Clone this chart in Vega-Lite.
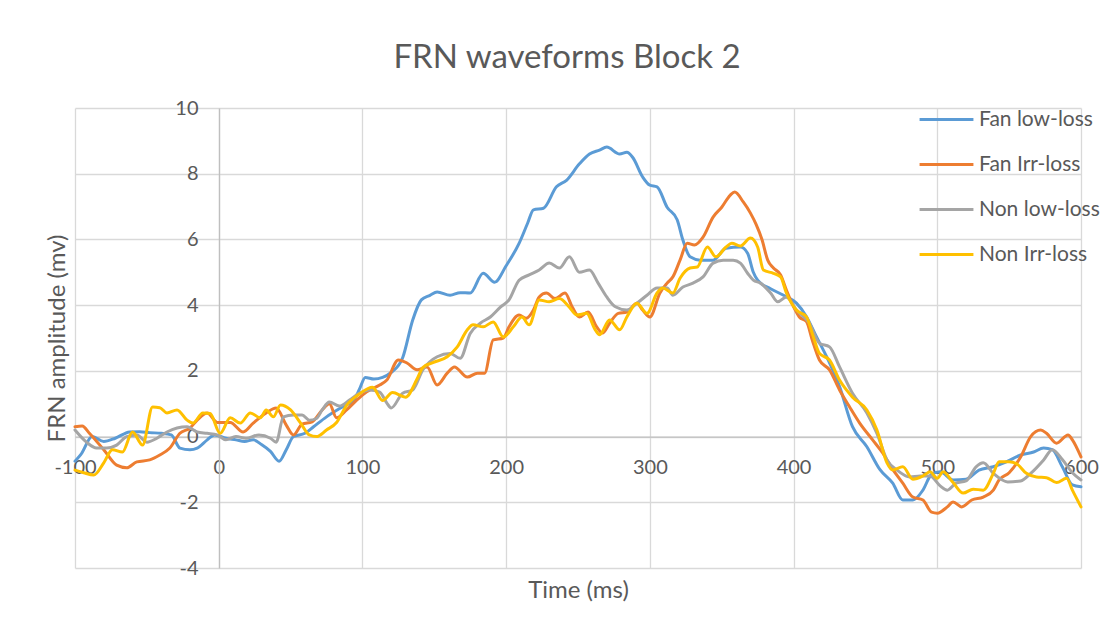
{
  "$schema": "https://vega.github.io/schema/vega-lite/v6.json",
  "width": 1006,
  "height": 460,
  "autosize": {"type": "none"},
  "padding": {"left": 75, "top": 108, "right": 39, "bottom": 63},
  "background": "white",
  "config": {
    "view": {"stroke": null},
    "font": "Lato",
    "axis": {"labelFont": "Lato", "titleFont": "Lato", "labelColor": "#595959", "titleColor": "#595959"},
    "legend": {"labelFont": "Lato"}
  },
  "title": {
    "text": "FRN waveforms Block 2",
    "font": "Lato",
    "fontSize": 33,
    "fontWeight": "normal",
    "color": "#595959",
    "anchor": "middle",
    "dx": -11,
    "offset": 16
  },
  "data": {
    "values": [
      {"t": -100, "v": -0.75, "s": "Fan low-loss"},
      {"t": -96, "v": -0.55, "s": "Fan low-loss"},
      {"t": -88, "v": 0.0, "s": "Fan low-loss"},
      {"t": -80, "v": -0.15, "s": "Fan low-loss"},
      {"t": -72, "v": -0.05, "s": "Fan low-loss"},
      {"t": -62, "v": 0.14, "s": "Fan low-loss"},
      {"t": -55, "v": 0.15, "s": "Fan low-loss"},
      {"t": -48, "v": 0.12, "s": "Fan low-loss"},
      {"t": -40, "v": 0.1, "s": "Fan low-loss"},
      {"t": -33, "v": 0.05, "s": "Fan low-loss"},
      {"t": -27, "v": -0.35, "s": "Fan low-loss"},
      {"t": -20, "v": -0.4, "s": "Fan low-loss"},
      {"t": -15, "v": -0.35, "s": "Fan low-loss"},
      {"t": -8, "v": -0.1, "s": "Fan low-loss"},
      {"t": -3, "v": 0.05, "s": "Fan low-loss"},
      {"t": 5, "v": -0.05, "s": "Fan low-loss"},
      {"t": 12, "v": -0.1, "s": "Fan low-loss"},
      {"t": 18, "v": -0.15, "s": "Fan low-loss"},
      {"t": 24, "v": -0.1, "s": "Fan low-loss"},
      {"t": 30, "v": -0.25, "s": "Fan low-loss"},
      {"t": 36, "v": -0.45, "s": "Fan low-loss"},
      {"t": 42, "v": -0.75, "s": "Fan low-loss"},
      {"t": 47, "v": -0.4, "s": "Fan low-loss"},
      {"t": 52, "v": 0.0, "s": "Fan low-loss"},
      {"t": 60, "v": 0.1, "s": "Fan low-loss"},
      {"t": 66, "v": 0.3, "s": "Fan low-loss"},
      {"t": 75, "v": 0.6, "s": "Fan low-loss"},
      {"t": 86, "v": 0.9, "s": "Fan low-loss"},
      {"t": 94, "v": 1.1, "s": "Fan low-loss"},
      {"t": 98, "v": 1.45, "s": "Fan low-loss"},
      {"t": 102, "v": 1.8, "s": "Fan low-loss"},
      {"t": 108, "v": 1.75, "s": "Fan low-loss"},
      {"t": 114, "v": 1.8, "s": "Fan low-loss"},
      {"t": 120, "v": 1.95, "s": "Fan low-loss"},
      {"t": 128, "v": 2.4, "s": "Fan low-loss"},
      {"t": 135, "v": 3.55, "s": "Fan low-loss"},
      {"t": 141, "v": 4.16, "s": "Fan low-loss"},
      {"t": 147, "v": 4.3, "s": "Fan low-loss"},
      {"t": 152, "v": 4.4, "s": "Fan low-loss"},
      {"t": 161, "v": 4.3, "s": "Fan low-loss"},
      {"t": 168, "v": 4.38, "s": "Fan low-loss"},
      {"t": 175, "v": 4.37, "s": "Fan low-loss"},
      {"t": 184, "v": 4.97, "s": "Fan low-loss"},
      {"t": 192, "v": 4.7, "s": "Fan low-loss"},
      {"t": 200, "v": 5.2, "s": "Fan low-loss"},
      {"t": 209, "v": 5.88, "s": "Fan low-loss"},
      {"t": 215, "v": 6.5, "s": "Fan low-loss"},
      {"t": 219, "v": 6.9, "s": "Fan low-loss"},
      {"t": 226, "v": 6.95, "s": "Fan low-loss"},
      {"t": 235, "v": 7.6, "s": "Fan low-loss"},
      {"t": 242, "v": 7.8, "s": "Fan low-loss"},
      {"t": 251, "v": 8.3, "s": "Fan low-loss"},
      {"t": 258, "v": 8.6, "s": "Fan low-loss"},
      {"t": 265, "v": 8.72, "s": "Fan low-loss"},
      {"t": 270, "v": 8.81, "s": "Fan low-loss"},
      {"t": 279, "v": 8.6, "s": "Fan low-loss"},
      {"t": 284, "v": 8.65, "s": "Fan low-loss"},
      {"t": 288, "v": 8.5, "s": "Fan low-loss"},
      {"t": 295, "v": 7.9, "s": "Fan low-loss"},
      {"t": 300, "v": 7.65, "s": "Fan low-loss"},
      {"t": 305, "v": 7.6, "s": "Fan low-loss"},
      {"t": 312, "v": 6.98, "s": "Fan low-loss"},
      {"t": 319, "v": 6.6, "s": "Fan low-loss"},
      {"t": 323, "v": 5.98, "s": "Fan low-loss"},
      {"t": 328, "v": 5.47, "s": "Fan low-loss"},
      {"t": 335, "v": 5.37, "s": "Fan low-loss"},
      {"t": 344, "v": 5.37, "s": "Fan low-loss"},
      {"t": 353, "v": 5.73, "s": "Fan low-loss"},
      {"t": 363, "v": 5.77, "s": "Fan low-loss"},
      {"t": 368, "v": 5.58, "s": "Fan low-loss"},
      {"t": 372, "v": 5.0, "s": "Fan low-loss"},
      {"t": 375, "v": 4.76, "s": "Fan low-loss"},
      {"t": 384, "v": 4.5, "s": "Fan low-loss"},
      {"t": 393, "v": 4.3, "s": "Fan low-loss"},
      {"t": 402, "v": 4.06, "s": "Fan low-loss"},
      {"t": 409, "v": 3.65, "s": "Fan low-loss"},
      {"t": 416, "v": 3.03, "s": "Fan low-loss"},
      {"t": 423, "v": 2.43, "s": "Fan low-loss"},
      {"t": 432, "v": 1.52, "s": "Fan low-loss"},
      {"t": 441, "v": 0.3, "s": "Fan low-loss"},
      {"t": 451, "v": -0.31, "s": "Fan low-loss"},
      {"t": 460, "v": -1.0, "s": "Fan low-loss"},
      {"t": 469, "v": -1.42, "s": "Fan low-loss"},
      {"t": 476, "v": -1.93, "s": "Fan low-loss"},
      {"t": 483, "v": -1.93, "s": "Fan low-loss"},
      {"t": 490, "v": -1.63, "s": "Fan low-loss"},
      {"t": 496, "v": -1.15, "s": "Fan low-loss"},
      {"t": 502, "v": -1.07, "s": "Fan low-loss"},
      {"t": 511, "v": -1.32, "s": "Fan low-loss"},
      {"t": 520, "v": -1.3, "s": "Fan low-loss"},
      {"t": 529, "v": -1.02, "s": "Fan low-loss"},
      {"t": 539, "v": -0.92, "s": "Fan low-loss"},
      {"t": 548, "v": -0.77, "s": "Fan low-loss"},
      {"t": 558, "v": -0.56, "s": "Fan low-loss"},
      {"t": 567, "v": -0.47, "s": "Fan low-loss"},
      {"t": 574, "v": -0.35, "s": "Fan low-loss"},
      {"t": 580, "v": -0.4, "s": "Fan low-loss"},
      {"t": 587, "v": -0.92, "s": "Fan low-loss"},
      {"t": 594, "v": -1.47, "s": "Fan low-loss"},
      {"t": 600, "v": -1.53, "s": "Fan low-loss"},

      {"t": -100, "v": 0.3, "s": "Fan Irr-loss"},
      {"t": -95, "v": 0.32, "s": "Fan Irr-loss"},
      {"t": -90, "v": 0.1, "s": "Fan Irr-loss"},
      {"t": -80, "v": -0.4, "s": "Fan Irr-loss"},
      {"t": -71, "v": -0.87, "s": "Fan Irr-loss"},
      {"t": -64, "v": -0.95, "s": "Fan Irr-loss"},
      {"t": -57, "v": -0.77, "s": "Fan Irr-loss"},
      {"t": -48, "v": -0.71, "s": "Fan Irr-loss"},
      {"t": -41, "v": -0.56, "s": "Fan Irr-loss"},
      {"t": -34, "v": -0.35, "s": "Fan Irr-loss"},
      {"t": -27, "v": 0.1, "s": "Fan Irr-loss"},
      {"t": -20, "v": 0.26, "s": "Fan Irr-loss"},
      {"t": -15, "v": 0.5, "s": "Fan Irr-loss"},
      {"t": -8, "v": 0.72, "s": "Fan Irr-loss"},
      {"t": -1, "v": 0.43, "s": "Fan Irr-loss"},
      {"t": 8, "v": 0.43, "s": "Fan Irr-loss"},
      {"t": 17, "v": 0.14, "s": "Fan Irr-loss"},
      {"t": 24, "v": 0.41, "s": "Fan Irr-loss"},
      {"t": 33, "v": 0.72, "s": "Fan Irr-loss"},
      {"t": 40, "v": 0.87, "s": "Fan Irr-loss"},
      {"t": 47, "v": 0.35, "s": "Fan Irr-loss"},
      {"t": 52, "v": 0.05, "s": "Fan Irr-loss"},
      {"t": 58, "v": 0.38, "s": "Fan Irr-loss"},
      {"t": 65, "v": 0.45, "s": "Fan Irr-loss"},
      {"t": 72, "v": 0.81, "s": "Fan Irr-loss"},
      {"t": 77, "v": 1.0, "s": "Fan Irr-loss"},
      {"t": 82, "v": 0.57, "s": "Fan Irr-loss"},
      {"t": 89, "v": 0.81, "s": "Fan Irr-loss"},
      {"t": 96, "v": 1.11, "s": "Fan Irr-loss"},
      {"t": 103, "v": 1.36, "s": "Fan Irr-loss"},
      {"t": 112, "v": 1.57, "s": "Fan Irr-loss"},
      {"t": 117, "v": 1.72, "s": "Fan Irr-loss"},
      {"t": 125, "v": 2.33, "s": "Fan Irr-loss"},
      {"t": 131, "v": 2.24, "s": "Fan Irr-loss"},
      {"t": 138, "v": 2.03, "s": "Fan Irr-loss"},
      {"t": 145, "v": 2.12, "s": "Fan Irr-loss"},
      {"t": 152, "v": 1.57, "s": "Fan Irr-loss"},
      {"t": 159, "v": 1.93, "s": "Fan Irr-loss"},
      {"t": 164, "v": 2.12, "s": "Fan Irr-loss"},
      {"t": 173, "v": 1.81, "s": "Fan Irr-loss"},
      {"t": 180, "v": 1.93, "s": "Fan Irr-loss"},
      {"t": 185, "v": 1.93, "s": "Fan Irr-loss"},
      {"t": 191, "v": 2.94, "s": "Fan Irr-loss"},
      {"t": 198, "v": 3.0, "s": "Fan Irr-loss"},
      {"t": 202, "v": 3.34, "s": "Fan Irr-loss"},
      {"t": 209, "v": 3.7, "s": "Fan Irr-loss"},
      {"t": 214, "v": 3.6, "s": "Fan Irr-loss"},
      {"t": 219, "v": 3.85, "s": "Fan Irr-loss"},
      {"t": 223, "v": 4.25, "s": "Fan Irr-loss"},
      {"t": 228, "v": 4.37, "s": "Fan Irr-loss"},
      {"t": 234, "v": 4.2, "s": "Fan Irr-loss"},
      {"t": 241, "v": 4.37, "s": "Fan Irr-loss"},
      {"t": 246, "v": 3.94, "s": "Fan Irr-loss"},
      {"t": 251, "v": 3.64, "s": "Fan Irr-loss"},
      {"t": 257, "v": 3.79, "s": "Fan Irr-loss"},
      {"t": 263, "v": 3.34, "s": "Fan Irr-loss"},
      {"t": 267, "v": 3.15, "s": "Fan Irr-loss"},
      {"t": 272, "v": 3.45, "s": "Fan Irr-loss"},
      {"t": 278, "v": 3.75, "s": "Fan Irr-loss"},
      {"t": 284, "v": 3.79, "s": "Fan Irr-loss"},
      {"t": 291, "v": 4.06, "s": "Fan Irr-loss"},
      {"t": 295, "v": 3.85, "s": "Fan Irr-loss"},
      {"t": 300, "v": 3.64, "s": "Fan Irr-loss"},
      {"t": 307, "v": 4.37, "s": "Fan Irr-loss"},
      {"t": 312, "v": 4.67, "s": "Fan Irr-loss"},
      {"t": 316, "v": 4.86, "s": "Fan Irr-loss"},
      {"t": 321, "v": 5.37, "s": "Fan Irr-loss"},
      {"t": 326, "v": 5.88, "s": "Fan Irr-loss"},
      {"t": 331, "v": 5.83, "s": "Fan Irr-loss"},
      {"t": 337, "v": 6.07, "s": "Fan Irr-loss"},
      {"t": 344, "v": 6.68, "s": "Fan Irr-loss"},
      {"t": 350, "v": 6.98, "s": "Fan Irr-loss"},
      {"t": 356, "v": 7.35, "s": "Fan Irr-loss"},
      {"t": 359, "v": 7.44, "s": "Fan Irr-loss"},
      {"t": 365, "v": 7.14, "s": "Fan Irr-loss"},
      {"t": 370, "v": 6.8, "s": "Fan Irr-loss"},
      {"t": 374, "v": 6.45, "s": "Fan Irr-loss"},
      {"t": 378, "v": 6.0, "s": "Fan Irr-loss"},
      {"t": 382, "v": 5.37, "s": "Fan Irr-loss"},
      {"t": 386, "v": 5.13, "s": "Fan Irr-loss"},
      {"t": 391, "v": 4.92, "s": "Fan Irr-loss"},
      {"t": 395, "v": 4.46, "s": "Fan Irr-loss"},
      {"t": 400, "v": 3.95, "s": "Fan Irr-loss"},
      {"t": 404, "v": 3.64, "s": "Fan Irr-loss"},
      {"t": 409, "v": 3.5, "s": "Fan Irr-loss"},
      {"t": 413, "v": 2.94, "s": "Fan Irr-loss"},
      {"t": 418, "v": 2.33, "s": "Fan Irr-loss"},
      {"t": 425, "v": 2.03, "s": "Fan Irr-loss"},
      {"t": 432, "v": 1.42, "s": "Fan Irr-loss"},
      {"t": 439, "v": 0.9, "s": "Fan Irr-loss"},
      {"t": 446, "v": 0.41, "s": "Fan Irr-loss"},
      {"t": 455, "v": -0.1, "s": "Fan Irr-loss"},
      {"t": 462, "v": -0.5, "s": "Fan Irr-loss"},
      {"t": 469, "v": -1.0, "s": "Fan Irr-loss"},
      {"t": 476, "v": -1.42, "s": "Fan Irr-loss"},
      {"t": 483, "v": -1.84, "s": "Fan Irr-loss"},
      {"t": 490, "v": -1.93, "s": "Fan Irr-loss"},
      {"t": 496, "v": -2.3, "s": "Fan Irr-loss"},
      {"t": 500, "v": -2.33, "s": "Fan Irr-loss"},
      {"t": 507, "v": -2.14, "s": "Fan Irr-loss"},
      {"t": 511, "v": -1.99, "s": "Fan Irr-loss"},
      {"t": 517, "v": -2.14, "s": "Fan Irr-loss"},
      {"t": 524, "v": -1.93, "s": "Fan Irr-loss"},
      {"t": 532, "v": -1.84, "s": "Fan Irr-loss"},
      {"t": 539, "v": -1.63, "s": "Fan Irr-loss"},
      {"t": 543, "v": -1.32, "s": "Fan Irr-loss"},
      {"t": 550, "v": -1.1, "s": "Fan Irr-loss"},
      {"t": 558, "v": -0.62, "s": "Fan Irr-loss"},
      {"t": 565, "v": 0.0, "s": "Fan Irr-loss"},
      {"t": 572, "v": 0.2, "s": "Fan Irr-loss"},
      {"t": 576, "v": 0.1, "s": "Fan Irr-loss"},
      {"t": 583, "v": -0.2, "s": "Fan Irr-loss"},
      {"t": 591, "v": 0.05, "s": "Fan Irr-loss"},
      {"t": 594, "v": -0.1, "s": "Fan Irr-loss"},
      {"t": 600, "v": -0.62, "s": "Fan Irr-loss"},

      {"t": -100, "v": 0.2, "s": "Non low-loss"},
      {"t": -92, "v": -0.17, "s": "Non low-loss"},
      {"t": -85, "v": -0.35, "s": "Non low-loss"},
      {"t": -78, "v": -0.35, "s": "Non low-loss"},
      {"t": -71, "v": -0.26, "s": "Non low-loss"},
      {"t": -64, "v": 0.0, "s": "Non low-loss"},
      {"t": -57, "v": 0.05, "s": "Non low-loss"},
      {"t": -50, "v": -0.17, "s": "Non low-loss"},
      {"t": -43, "v": -0.05, "s": "Non low-loss"},
      {"t": -36, "v": 0.14, "s": "Non low-loss"},
      {"t": -29, "v": 0.26, "s": "Non low-loss"},
      {"t": -22, "v": 0.3, "s": "Non low-loss"},
      {"t": -15, "v": 0.14, "s": "Non low-loss"},
      {"t": -8, "v": 0.1, "s": "Non low-loss"},
      {"t": -1, "v": 0.05, "s": "Non low-loss"},
      {"t": 5, "v": -0.1, "s": "Non low-loss"},
      {"t": 12, "v": 0.0, "s": "Non low-loss"},
      {"t": 19, "v": -0.05, "s": "Non low-loss"},
      {"t": 28, "v": 0.05, "s": "Non low-loss"},
      {"t": 36, "v": -0.05, "s": "Non low-loss"},
      {"t": 40, "v": -0.17, "s": "Non low-loss"},
      {"t": 45, "v": 0.6, "s": "Non low-loss"},
      {"t": 52, "v": 0.66, "s": "Non low-loss"},
      {"t": 58, "v": 0.66, "s": "Non low-loss"},
      {"t": 63, "v": 0.5, "s": "Non low-loss"},
      {"t": 68, "v": 0.55, "s": "Non low-loss"},
      {"t": 72, "v": 0.81, "s": "Non low-loss"},
      {"t": 77, "v": 1.05, "s": "Non low-loss"},
      {"t": 84, "v": 0.93, "s": "Non low-loss"},
      {"t": 91, "v": 1.11, "s": "Non low-loss"},
      {"t": 98, "v": 1.32, "s": "Non low-loss"},
      {"t": 105, "v": 1.42, "s": "Non low-loss"},
      {"t": 112, "v": 1.35, "s": "Non low-loss"},
      {"t": 117, "v": 1.02, "s": "Non low-loss"},
      {"t": 120, "v": 0.87, "s": "Non low-loss"},
      {"t": 128, "v": 1.32, "s": "Non low-loss"},
      {"t": 135, "v": 1.42, "s": "Non low-loss"},
      {"t": 142, "v": 2.03, "s": "Non low-loss"},
      {"t": 152, "v": 2.43, "s": "Non low-loss"},
      {"t": 161, "v": 2.53, "s": "Non low-loss"},
      {"t": 168, "v": 2.38, "s": "Non low-loss"},
      {"t": 175, "v": 3.14, "s": "Non low-loss"},
      {"t": 182, "v": 3.45, "s": "Non low-loss"},
      {"t": 189, "v": 3.64, "s": "Non low-loss"},
      {"t": 196, "v": 3.94, "s": "Non low-loss"},
      {"t": 202, "v": 4.16, "s": "Non low-loss"},
      {"t": 209, "v": 4.76, "s": "Non low-loss"},
      {"t": 216, "v": 4.92, "s": "Non low-loss"},
      {"t": 223, "v": 5.07, "s": "Non low-loss"},
      {"t": 230, "v": 5.28, "s": "Non low-loss"},
      {"t": 237, "v": 5.13, "s": "Non low-loss"},
      {"t": 244, "v": 5.47, "s": "Non low-loss"},
      {"t": 251, "v": 5.0, "s": "Non low-loss"},
      {"t": 258, "v": 5.07, "s": "Non low-loss"},
      {"t": 264, "v": 4.67, "s": "Non low-loss"},
      {"t": 270, "v": 4.25, "s": "Non low-loss"},
      {"t": 276, "v": 3.95, "s": "Non low-loss"},
      {"t": 284, "v": 3.85, "s": "Non low-loss"},
      {"t": 291, "v": 4.06, "s": "Non low-loss"},
      {"t": 298, "v": 4.3, "s": "Non low-loss"},
      {"t": 305, "v": 4.52, "s": "Non low-loss"},
      {"t": 312, "v": 4.52, "s": "Non low-loss"},
      {"t": 316, "v": 4.3, "s": "Non low-loss"},
      {"t": 323, "v": 4.55, "s": "Non low-loss"},
      {"t": 330, "v": 4.67, "s": "Non low-loss"},
      {"t": 337, "v": 4.86, "s": "Non low-loss"},
      {"t": 344, "v": 5.28, "s": "Non low-loss"},
      {"t": 351, "v": 5.37, "s": "Non low-loss"},
      {"t": 358, "v": 5.37, "s": "Non low-loss"},
      {"t": 363, "v": 5.28, "s": "Non low-loss"},
      {"t": 368, "v": 4.97, "s": "Non low-loss"},
      {"t": 372, "v": 4.76, "s": "Non low-loss"},
      {"t": 377, "v": 4.67, "s": "Non low-loss"},
      {"t": 384, "v": 4.37, "s": "Non low-loss"},
      {"t": 389, "v": 4.1, "s": "Non low-loss"},
      {"t": 395, "v": 4.25, "s": "Non low-loss"},
      {"t": 402, "v": 3.85, "s": "Non low-loss"},
      {"t": 411, "v": 3.45, "s": "Non low-loss"},
      {"t": 418, "v": 2.84, "s": "Non low-loss"},
      {"t": 425, "v": 2.73, "s": "Non low-loss"},
      {"t": 432, "v": 2.12, "s": "Non low-loss"},
      {"t": 441, "v": 1.32, "s": "Non low-loss"},
      {"t": 451, "v": 0.72, "s": "Non low-loss"},
      {"t": 458, "v": 0.1, "s": "Non low-loss"},
      {"t": 465, "v": -0.71, "s": "Non low-loss"},
      {"t": 472, "v": -1.02, "s": "Non low-loss"},
      {"t": 481, "v": -1.23, "s": "Non low-loss"},
      {"t": 488, "v": -1.2, "s": "Non low-loss"},
      {"t": 495, "v": -1.2, "s": "Non low-loss"},
      {"t": 502, "v": -1.5, "s": "Non low-loss"},
      {"t": 507, "v": -1.63, "s": "Non low-loss"},
      {"t": 513, "v": -1.42, "s": "Non low-loss"},
      {"t": 520, "v": -1.35, "s": "Non low-loss"},
      {"t": 527, "v": -0.92, "s": "Non low-loss"},
      {"t": 532, "v": -0.8, "s": "Non low-loss"},
      {"t": 539, "v": -1.12, "s": "Non low-loss"},
      {"t": 549, "v": -1.38, "s": "Non low-loss"},
      {"t": 558, "v": -1.35, "s": "Non low-loss"},
      {"t": 565, "v": -1.12, "s": "Non low-loss"},
      {"t": 574, "v": -0.71, "s": "Non low-loss"},
      {"t": 580, "v": -0.4, "s": "Non low-loss"},
      {"t": 587, "v": -0.7, "s": "Non low-loss"},
      {"t": 594, "v": -1.1, "s": "Non low-loss"},
      {"t": 600, "v": -1.32, "s": "Non low-loss"},

      {"t": -100, "v": -1.02, "s": "Non Irr-loss"},
      {"t": -94, "v": -1.1, "s": "Non Irr-loss"},
      {"t": -87, "v": -1.17, "s": "Non Irr-loss"},
      {"t": -80, "v": -0.8, "s": "Non Irr-loss"},
      {"t": -74, "v": -0.4, "s": "Non Irr-loss"},
      {"t": -67, "v": -0.47, "s": "Non Irr-loss"},
      {"t": -60, "v": 0.14, "s": "Non Irr-loss"},
      {"t": -53, "v": -0.26, "s": "Non Irr-loss"},
      {"t": -46, "v": 0.9, "s": "Non Irr-loss"},
      {"t": -41, "v": 0.88, "s": "Non Irr-loss"},
      {"t": -36, "v": 0.72, "s": "Non Irr-loss"},
      {"t": -29, "v": 0.81, "s": "Non Irr-loss"},
      {"t": -22, "v": 0.5, "s": "Non Irr-loss"},
      {"t": -18, "v": 0.41, "s": "Non Irr-loss"},
      {"t": -11, "v": 0.72, "s": "Non Irr-loss"},
      {"t": -6, "v": 0.7, "s": "Non Irr-loss"},
      {"t": 1, "v": 0.1, "s": "Non Irr-loss"},
      {"t": 8, "v": 0.57, "s": "Non Irr-loss"},
      {"t": 15, "v": 0.41, "s": "Non Irr-loss"},
      {"t": 22, "v": 0.72, "s": "Non Irr-loss"},
      {"t": 29, "v": 0.57, "s": "Non Irr-loss"},
      {"t": 33, "v": 0.81, "s": "Non Irr-loss"},
      {"t": 38, "v": 0.6, "s": "Non Irr-loss"},
      {"t": 43, "v": 0.96, "s": "Non Irr-loss"},
      {"t": 50, "v": 0.81, "s": "Non Irr-loss"},
      {"t": 57, "v": 0.41, "s": "Non Irr-loss"},
      {"t": 63, "v": 0.05, "s": "Non Irr-loss"},
      {"t": 68, "v": 0.0, "s": "Non Irr-loss"},
      {"t": 75, "v": 0.2, "s": "Non Irr-loss"},
      {"t": 82, "v": 0.43, "s": "Non Irr-loss"},
      {"t": 89, "v": 0.95, "s": "Non Irr-loss"},
      {"t": 98, "v": 1.3, "s": "Non Irr-loss"},
      {"t": 107, "v": 1.5, "s": "Non Irr-loss"},
      {"t": 114, "v": 1.1, "s": "Non Irr-loss"},
      {"t": 121, "v": 1.34, "s": "Non Irr-loss"},
      {"t": 130, "v": 1.2, "s": "Non Irr-loss"},
      {"t": 138, "v": 1.75, "s": "Non Irr-loss"},
      {"t": 142, "v": 2.1, "s": "Non Irr-loss"},
      {"t": 149, "v": 2.25, "s": "Non Irr-loss"},
      {"t": 159, "v": 2.43, "s": "Non Irr-loss"},
      {"t": 166, "v": 2.73, "s": "Non Irr-loss"},
      {"t": 173, "v": 3.25, "s": "Non Irr-loss"},
      {"t": 177, "v": 3.4, "s": "Non Irr-loss"},
      {"t": 184, "v": 3.34, "s": "Non Irr-loss"},
      {"t": 191, "v": 3.49, "s": "Non Irr-loss"},
      {"t": 198, "v": 3.03, "s": "Non Irr-loss"},
      {"t": 205, "v": 3.34, "s": "Non Irr-loss"},
      {"t": 211, "v": 3.64, "s": "Non Irr-loss"},
      {"t": 216, "v": 3.4, "s": "Non Irr-loss"},
      {"t": 223, "v": 4.16, "s": "Non Irr-loss"},
      {"t": 230, "v": 4.1, "s": "Non Irr-loss"},
      {"t": 237, "v": 4.2, "s": "Non Irr-loss"},
      {"t": 244, "v": 3.94, "s": "Non Irr-loss"},
      {"t": 249, "v": 3.7, "s": "Non Irr-loss"},
      {"t": 256, "v": 3.75, "s": "Non Irr-loss"},
      {"t": 262, "v": 3.25, "s": "Non Irr-loss"},
      {"t": 265, "v": 3.1, "s": "Non Irr-loss"},
      {"t": 272, "v": 3.55, "s": "Non Irr-loss"},
      {"t": 279, "v": 3.25, "s": "Non Irr-loss"},
      {"t": 284, "v": 3.64, "s": "Non Irr-loss"},
      {"t": 291, "v": 4.06, "s": "Non Irr-loss"},
      {"t": 298, "v": 3.75, "s": "Non Irr-loss"},
      {"t": 305, "v": 4.37, "s": "Non Irr-loss"},
      {"t": 309, "v": 4.52, "s": "Non Irr-loss"},
      {"t": 316, "v": 4.37, "s": "Non Irr-loss"},
      {"t": 321, "v": 4.82, "s": "Non Irr-loss"},
      {"t": 328, "v": 5.13, "s": "Non Irr-loss"},
      {"t": 333, "v": 5.16, "s": "Non Irr-loss"},
      {"t": 340, "v": 5.77, "s": "Non Irr-loss"},
      {"t": 346, "v": 5.47, "s": "Non Irr-loss"},
      {"t": 353, "v": 5.77, "s": "Non Irr-loss"},
      {"t": 357, "v": 5.88, "s": "Non Irr-loss"},
      {"t": 363, "v": 5.8, "s": "Non Irr-loss"},
      {"t": 370, "v": 6.04, "s": "Non Irr-loss"},
      {"t": 375, "v": 5.77, "s": "Non Irr-loss"},
      {"t": 379, "v": 5.07, "s": "Non Irr-loss"},
      {"t": 386, "v": 4.97, "s": "Non Irr-loss"},
      {"t": 391, "v": 4.86, "s": "Non Irr-loss"},
      {"t": 395, "v": 4.37, "s": "Non Irr-loss"},
      {"t": 402, "v": 3.85, "s": "Non Irr-loss"},
      {"t": 409, "v": 3.64, "s": "Non Irr-loss"},
      {"t": 413, "v": 3.14, "s": "Non Irr-loss"},
      {"t": 418, "v": 2.53, "s": "Non Irr-loss"},
      {"t": 425, "v": 2.33, "s": "Non Irr-loss"},
      {"t": 432, "v": 1.72, "s": "Non Irr-loss"},
      {"t": 441, "v": 1.2, "s": "Non Irr-loss"},
      {"t": 451, "v": 0.81, "s": "Non Irr-loss"},
      {"t": 458, "v": 0.2, "s": "Non Irr-loss"},
      {"t": 465, "v": -0.8, "s": "Non Irr-loss"},
      {"t": 469, "v": -1.02, "s": "Non Irr-loss"},
      {"t": 476, "v": -0.92, "s": "Non Irr-loss"},
      {"t": 483, "v": -1.3, "s": "Non Irr-loss"},
      {"t": 490, "v": -1.2, "s": "Non Irr-loss"},
      {"t": 495, "v": -1.07, "s": "Non Irr-loss"},
      {"t": 500, "v": -1.27, "s": "Non Irr-loss"},
      {"t": 504, "v": -1.07, "s": "Non Irr-loss"},
      {"t": 511, "v": -1.4, "s": "Non Irr-loss"},
      {"t": 518, "v": -1.72, "s": "Non Irr-loss"},
      {"t": 525, "v": -1.6, "s": "Non Irr-loss"},
      {"t": 532, "v": -1.63, "s": "Non Irr-loss"},
      {"t": 539, "v": -1.12, "s": "Non Irr-loss"},
      {"t": 543, "v": -0.77, "s": "Non Irr-loss"},
      {"t": 550, "v": -0.77, "s": "Non Irr-loss"},
      {"t": 555, "v": -0.82, "s": "Non Irr-loss"},
      {"t": 562, "v": -1.12, "s": "Non Irr-loss"},
      {"t": 569, "v": -1.23, "s": "Non Irr-loss"},
      {"t": 576, "v": -1.25, "s": "Non Irr-loss"},
      {"t": 583, "v": -1.4, "s": "Non Irr-loss"},
      {"t": 590, "v": -1.27, "s": "Non Irr-loss"},
      {"t": 594, "v": -1.63, "s": "Non Irr-loss"},
      {"t": 600, "v": -2.14, "s": "Non Irr-loss"}
    ]
  },
  "mark": {"type": "line", "strokeWidth": 3, "interpolate": "monotone", "strokeCap": "round", "strokeJoin": "round"},
  "encoding": {
    "x": {
      "field": "t",
      "type": "quantitative",
      "scale": {"domain": [-100, 600], "nice": false, "zero": false},
      "axis": {
        "title": "Time (ms)",
        "titleFontSize": 24,
        "titleFontWeight": "normal",
        "titleBaseline": "middle",
        "titleY": 154,
        "values": [-100, 0, 100, 200, 300, 400, 500, 600],
        "labelExpr": "replace(datum.label, '\u2212', '-')",
        "offset": -131.4,
        "grid": true,
        "gridColor": "#D9D9D9",
        "gridWidth": 1.3,
        "domainColor": "#BFBFBF",
        "domainWidth": 1.3,
        "ticks": false,
        "labelFontSize": 20,
        "labelPadding": 21,
        "labelFlush": false,
        "labelOverlap": false
      }
    },
    "y": {
      "field": "v",
      "type": "quantitative",
      "scale": {"domain": [-4, 10], "nice": false},
      "axis": {
        "title": "FRN amplitude (mv)",
        "titleFontSize": 24,
        "titleFontWeight": "normal",
        "titleX": -162,
        "titleY": 230,
        "titleBaseline": "middle",
        "titleAlign": "center",
        "titleAngle": -90,
        "values": [-4, -2, 0, 2, 4, 6, 8, 10],
        "labelExpr": "replace(datum.label, '\u2212', '-')",
        "offset": -144,
        "grid": true,
        "gridColor": "#D9D9D9",
        "gridWidth": 1.3,
        "domainColor": "#BFBFBF",
        "domainWidth": 1.3,
        "ticks": false,
        "labelFontSize": 20,
        "labelPadding": 21,
        "labelOverlap": false
      }
    },
    "color": {
      "field": "s",
      "type": "nominal",
      "scale": {
        "domain": ["Fan low-loss", "Fan Irr-loss", "Non low-loss", "Non Irr-loss"],
        "range": ["#5B9BD5", "#ED7D31", "#A5A5A5", "#FFC000"]
      },
      "legend": {
        "title": null,
        "orient": "none",
        "legendX": 843,
        "legendY": -17,
        "symbolType": "stroke",
        "symbolSize": 2900,
        "symbolStrokeWidth": 3,
        "labelFontSize": 21,
        "labelColor": "#595959",
        "labelOffset": 4,
        "rowPadding": 6
      }
    }
  }
}
